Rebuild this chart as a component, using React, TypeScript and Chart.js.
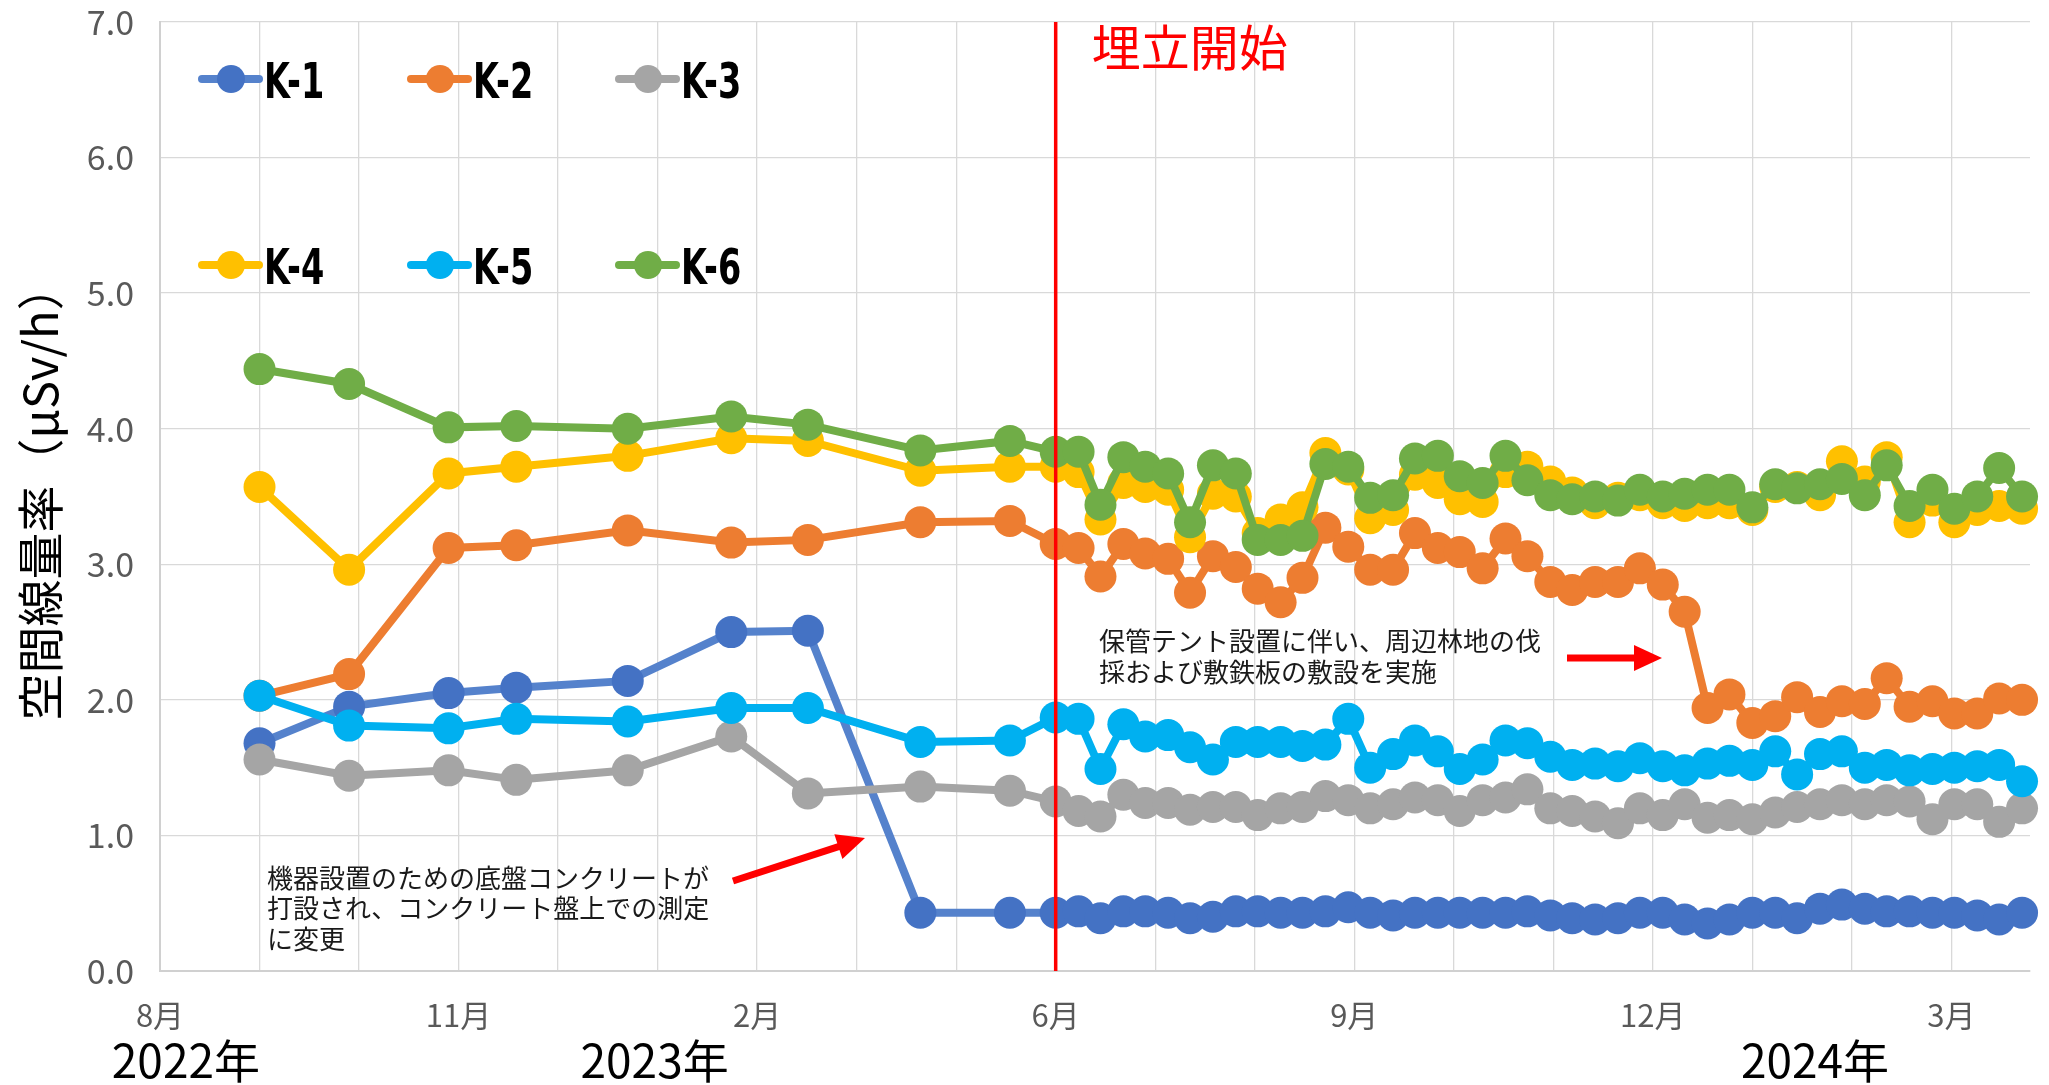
import React, { useEffect, useRef } from "react";
import { Chart, registerables } from "chart.js";

Chart.register(...registerables);

// Horizontal positions of the measurements, in axis grid units (0 = "8月" gridline)
const X_POS = [
  1.0, 1.9, 2.9, 3.58, 4.7, 5.74, 6.51, 7.64, 8.54,
  9.0, 9.23, 9.45, 9.68, 9.9, 10.13, 10.35, 10.58, 10.81, 11.03,
  11.26, 11.48, 11.71, 11.94, 12.16, 12.39, 12.61, 12.84, 13.06, 13.29,
  13.52, 13.74, 13.97, 14.19, 14.42, 14.65, 14.87, 15.1, 15.32, 15.55,
  15.77, 16.0, 16.23, 16.45, 16.68, 16.9, 17.13, 17.35, 17.58, 17.81,
  18.03, 18.26, 18.48, 18.71,
];

const K1 = [
  1.68, 1.95, 2.05, 2.09, 2.14, 2.5, 2.51, 0.43, 0.43,
  0.43, 0.44, 0.39, 0.44, 0.44, 0.43, 0.39, 0.4, 0.44, 0.44,
  0.43, 0.43, 0.44, 0.47, 0.43, 0.41, 0.43, 0.43, 0.43, 0.43,
  0.43, 0.44, 0.41, 0.39, 0.38, 0.39, 0.43, 0.43, 0.38, 0.35,
  0.38, 0.43, 0.43, 0.39, 0.46, 0.49, 0.46, 0.44, 0.44, 0.43,
  0.43, 0.41, 0.38, 0.43,
];
const K2 = [
  2.03, 2.19, 3.12, 3.14, 3.25, 3.16, 3.18, 3.31, 3.32,
  3.15, 3.12, 2.91, 3.15, 3.08, 3.04, 2.79, 3.06, 2.98, 2.82,
  2.72, 2.9, 3.27, 3.13, 2.96, 2.96, 3.23, 3.12, 3.09, 2.97,
  3.19, 3.06, 2.87, 2.81, 2.87, 2.87, 2.97, 2.85, 2.65, 1.94,
  2.04, 1.83, 1.88, 2.02, 1.91, 1.99, 1.97, 2.16, 1.95, 1.99,
  1.9, 1.9, 2.01, 2.0,
];
const K3 = [
  1.56, 1.44, 1.48, 1.41, 1.48, 1.73, 1.31, 1.36, 1.33,
  1.25, 1.18, 1.14, 1.3, 1.24, 1.24, 1.19, 1.21, 1.21, 1.15,
  1.2, 1.21, 1.29, 1.26, 1.2, 1.23, 1.28, 1.26, 1.18, 1.26,
  1.28, 1.34, 1.2, 1.18, 1.14, 1.09, 1.2, 1.15, 1.23, 1.13,
  1.15, 1.12, 1.17, 1.21, 1.23, 1.26, 1.23, 1.26, 1.25, 1.12,
  1.23, 1.23, 1.1, 1.2,
];
const K4 = [
  3.57, 2.96, 3.67, 3.72, 3.8, 3.93, 3.91, 3.69, 3.72,
  3.72, 3.68, 3.33, 3.6, 3.57, 3.55, 3.2, 3.52, 3.5, 3.23,
  3.33, 3.42, 3.82, 3.7, 3.34, 3.4, 3.66, 3.6, 3.48, 3.46,
  3.68, 3.72, 3.61, 3.53, 3.45, 3.49, 3.51, 3.45, 3.43, 3.45,
  3.45, 3.4, 3.57, 3.57, 3.51, 3.76, 3.61, 3.79, 3.31, 3.47,
  3.31, 3.4, 3.43, 3.41,
];
const K5 = [
  2.03, 1.81, 1.79, 1.86, 1.84, 1.94, 1.94, 1.69, 1.7,
  1.87, 1.86, 1.49, 1.82, 1.73, 1.74, 1.65, 1.56, 1.69, 1.69,
  1.69, 1.66, 1.67, 1.86, 1.5, 1.6, 1.7, 1.62, 1.49, 1.56,
  1.7, 1.68, 1.58, 1.52, 1.53, 1.51, 1.57, 1.51, 1.48, 1.53,
  1.55, 1.52, 1.62, 1.45, 1.6, 1.62, 1.5, 1.52, 1.48, 1.49,
  1.5, 1.51, 1.52, 1.4,
];
const K6 = [
  4.44, 4.33, 4.01, 4.02, 4.0, 4.09, 4.03, 3.84, 3.91,
  3.83, 3.83, 3.44, 3.79, 3.72, 3.67, 3.31, 3.73, 3.67, 3.18,
  3.18, 3.21, 3.74, 3.72, 3.49, 3.51, 3.78, 3.8, 3.65, 3.6,
  3.8, 3.62, 3.51, 3.48, 3.5, 3.47, 3.55, 3.5, 3.52, 3.55,
  3.55, 3.42, 3.59, 3.56, 3.59, 3.63, 3.51, 3.73, 3.43, 3.55,
  3.41, 3.5, 3.71, 3.5,
];

const SERIES_NAMES = ["K-1", "K-2", "K-3", "K-4", "K-5", "K-6"];
const SERIES_VALUES = [K1, K2, K3, K4, K5, K6];
const SERIES_COLORS = ["#4472C4", "#ED7D31", "#A5A5A5", "#FFC000", "#00B0F0", "#70AD47"];
const LINE_COLORS = ["#5582CC", "#ED7D31", "#A5A5A5", "#FFC000", "#00B0F0", "#70AD47"];

const X_TICK_POS = [0, 3, 6, 9, 12, 15, 18];
const X_TICK_TEXT = ["8月", "11月", "2月", "6月", "9月", "12月", "3月"];
const YEAR_POS = [0.26, 4.97, 16.63];
const YEAR_TEXT = ["2022年", "2023年", "2024年"];
const START_POS = 9;
const START_TEXT = "埋立開始";
const Y_TITLE = "空間線量率（μSv/h）";
const NOTE1 = ["機器設置のための底盤コンクリートが", "打設され、コンクリート盤上での測定", "に変更"];
const NOTE2 = ["保管テント設置に伴い、周辺林地の伐", "採および敷鉄板の敷設を実施"];

const JP = '"Noto Sans CJK JP", "Noto Sans", sans-serif';

function drawArrow(ctx: CanvasRenderingContext2D, x1: number, y1: number, x2: number, y2: number, w: number, hl: number, hw: number) {
  const a = Math.atan2(y2 - y1, x2 - x1);
  const bx = x2 - hl * Math.cos(a);
  const by = y2 - hl * Math.sin(a);
  ctx.lineWidth = w;
  ctx.lineCap = "butt";
  ctx.beginPath();
  ctx.moveTo(x1, y1);
  ctx.lineTo(bx + 1 * Math.cos(a), by + 1 * Math.sin(a));
  ctx.stroke();
  ctx.beginPath();
  ctx.moveTo(x2, y2);
  ctx.lineTo(bx + hw * Math.sin(a), by - hw * Math.cos(a));
  ctx.lineTo(bx - hw * Math.sin(a), by + hw * Math.cos(a));
  ctx.closePath();
  ctx.fill();
}

const overlayPlugin = {
  id: "overlay",
  afterDraw(chart: any) {
    const { ctx, chartArea, scales } = chart;
    const xs = scales.x;
    ctx.save();

    // start line
    const rx = xs.getPixelForValue(START_POS);
    ctx.strokeStyle = "#FF0000";
    ctx.lineWidth = 3.5;
    ctx.beginPath();
    ctx.moveTo(rx, chartArea.top);
    ctx.lineTo(rx, chartArea.bottom);
    ctx.stroke();

    ctx.fillStyle = "#FF0000";
    ctx.font = `49px ${JP}`;
    ctx.textAlign = "left";
    ctx.textBaseline = "middle";
    ctx.fillText(START_TEXT, rx + 36, 47);

    // notes
    ctx.fillStyle = "#1a1a1a";
    ctx.font = `26px ${JP}`;
    ctx.textBaseline = "middle";
    NOTE1.forEach((t, i) => ctx.fillText(t, 267, 878 + i * 30.5));
    NOTE2.forEach((t, i) => ctx.fillText(t, 1099, 641 + i * 31));

    // arrows
    ctx.strokeStyle = "#FF0000";
    ctx.fillStyle = "#FF0000";
    drawArrow(ctx, 733, 881, 865, 838, 7, 28, 13);
    drawArrow(ctx, 1567, 658, 1662, 658, 7, 28, 13);

    // year labels
    ctx.fillStyle = "#000";
    ctx.font = `46px ${JP}`;
    ctx.textAlign = "center";
    ctx.textBaseline = "middle";
    YEAR_TEXT.forEach((t, i) => ctx.fillText(t, xs.getPixelForValue(YEAR_POS[i]), 1061));

    // y title
    ctx.save();
    ctx.translate(40, 492);
    ctx.rotate(-Math.PI / 2);
    ctx.font = `47px ${JP}`;
    ctx.fillText(Y_TITLE, 0, 0);
    ctx.restore();

    // legend
    const colX = [199, 408, 616];
    const rowY = [79, 265];
    SERIES_NAMES.forEach((name, i) => {
      const x0 = colX[i % 3];
      const y0 = rowY[Math.floor(i / 3)];
      ctx.strokeStyle = LINE_COLORS[i];
      ctx.fillStyle = SERIES_COLORS[i];
      ctx.lineWidth = 8;
      ctx.lineCap = "round";
      ctx.beginPath();
      ctx.moveTo(x0 + 3, y0);
      ctx.lineTo(x0 + 60, y0);
      ctx.stroke();
      ctx.beginPath();
      ctx.arc(x0 + 32, y0, 14, 0, Math.PI * 2);
      ctx.fill();
      ctx.save();
      ctx.translate(x0 + 65, y0 + 19);
      ctx.scale(0.67, 1);
      ctx.fillStyle = "#000";
      ctx.font = 'bold 50px "DejaVu Sans", sans-serif';
      ctx.textAlign = "left";
      ctx.textBaseline = "alphabetic";
      ctx.fillText(name, 0, 0);
      ctx.restore();
    });

    ctx.restore();
  },
};

export default function App() {
  const ref = useRef<HTMLCanvasElement>(null);
  useEffect(() => {
    const datasets = SERIES_NAMES.map((name, i) => ({
      label: name,
      data: X_POS.map((x, j) => ({ x, y: SERIES_VALUES[i][j] })),
      borderColor: LINE_COLORS[i],
      backgroundColor: SERIES_COLORS[i],
      pointBackgroundColor: SERIES_COLORS[i],
      pointBorderColor: SERIES_COLORS[i],
      pointBorderWidth: 0,
      pointRadius: 16,
      pointHoverRadius: 16,
      borderWidth: 8,
      tension: 0,
      order: 6 - i,
      clip: false as any,
    }));
    const chart = new Chart(ref.current!, {
      type: "line",
      data: { datasets },
      plugins: [overlayPlugin],
      options: {
        animation: false,
        responsive: false,
        events: [],
        layout: { padding: { left: 0, top: 22, right: 19, bottom: 0 } },
        plugins: { legend: { display: false }, tooltip: { enabled: false } },
        scales: {
          x: {
            type: "linear",
            min: 0,
            max: 18.79,
            grid: { color: "#D9D9D9", lineWidth: 1.3, drawTicks: false },
            border: { color: "#D0D0D0", width: 2 },
            ticks: {
              stepSize: 1,
              includeBounds: false,
              autoSkip: false,
              maxRotation: 0,
              minRotation: 0,
              padding: 26,
              color: "#595959",
              font: { family: JP, size: 31 },
              callback: (v: any) => {
                const k = X_TICK_POS.indexOf(Math.round(Number(v) * 100) / 100);
                return k >= 0 ? X_TICK_TEXT[k] : "";
              },
            },
            afterFit: (s: any) => {
              s.height = 114;
              s.paddingLeft = 0;
              s.paddingRight = 0;
            },
          },
          y: {
            min: 0,
            max: 7,
            grid: { color: "#D9D9D9", lineWidth: 1.3, drawTicks: false },
            border: { color: "#D0D0D0", width: 2 },
            ticks: {
              stepSize: 1,
              padding: 26,
              color: "#595959",
              font: { family: JP, size: 34 },
              callback: (v: any) => Number(v).toFixed(1),
            },
            afterFit: (s: any) => {
              s.width = 160;
              s.paddingTop = 0;
              s.paddingBottom = 0;
            },
          },
        },
      },
    });
    return () => chart.destroy();
  }, []);
  return (
    <div style={{ position: "absolute", left: 0, top: 0, width: 2049, height: 1085, background: "#fff" }}>
      <canvas ref={ref} width={2049} height={1085} style={{ display: "block" }} />
    </div>
  );
}
